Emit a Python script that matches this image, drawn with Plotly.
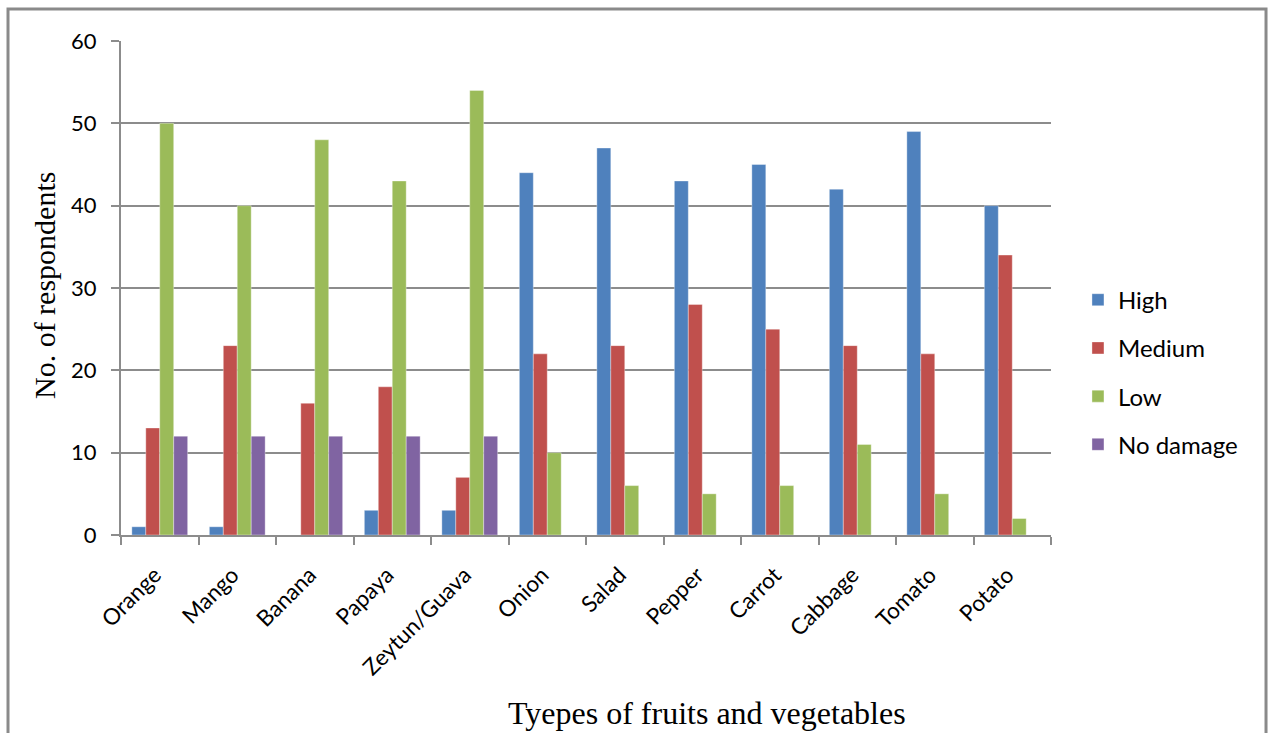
import plotly.graph_objects as go

categories = ["Orange", "Mango", "Banana", "Papaya", "Zeytun/Guava", "Onion",
              "Salad", "Pepper", "Carrot", "Cabbage", "Tomato", "Potato"]
high = [1, 1, 0, 3, 3, 44, 47, 43, 45, 42, 49, 40]
medium = [13, 23, 16, 18, 7, 22, 23, 28, 25, 23, 22, 34]
low = [50, 40, 48, 43, 54, 10, 6, 5, 6, 11, 5, 2]
no_damage = [12, 12, 12, 12, 12, 0, 0, 0, 0, 0, 0, 0]

series = [
    ("High", high, "#4F81BD"),
    ("Medium", medium, "#C0504D"),
    ("Low", low, "#9BBB59"),
    ("No damage", no_damage, "#8064A2"),
]

fig = go.Figure()
for name, vals, color in series:
    fig.add_trace(go.Bar(
        x=categories, y=vals, name=name, legendgroup=name,
        marker=dict(color=color, line=dict(color="rgba(255,255,255,0.35)", width=1)),
    ))

grid = "#8c8c8c"
sans = "Lato, 'Open Sans', sans-serif"
serif = "'Liberation Serif', 'Times New Roman', serif"
fig.update_layout(
    width=1269, height=733,
    margin=dict(l=121, r=218, t=41, b=198),
    paper_bgcolor="white", plot_bgcolor="white",
    barmode="group", bargap=0.28, bargroupgap=0,
    font=dict(family=sans, color="black"),
    showlegend=True,
    legend=dict(
        x=1.029, y=0.521, xanchor="left", yanchor="top",
        font=dict(size=24, family=sans),
        tracegroupgap=14, itemwidth=30,
    ),
    xaxis=dict(
        tickangle=-45, tickfont=dict(size=22.5),
        ticklabelstandoff=16, ticklabelshift=-5,
        showline=True, linecolor=grid, linewidth=2,
        ticks="outside", tickson="boundaries", ticklen=8, tickcolor=grid, tickwidth=2,
        showgrid=False,
    ),
    yaxis=dict(
        range=[0, 60], dtick=10, tickfont=dict(size=22),
        ticklabelstandoff=10,
        showline=True, linecolor=grid, linewidth=2,
        ticks="outside", ticklen=8, tickcolor=grid, tickwidth=2,
        showgrid=True, gridcolor=grid, gridwidth=2,
        zeroline=False,
    ),
    shapes=[dict(
        type="rect", xref="paper", yref="paper",
        x0=-0.1215, x1=1.2312, y0=-0.42, y1=1.0648,
        line=dict(color="#8a8a8a", width=3), layer="below",
    )],
    annotations=[
        dict(text="No. of respondents", xref="paper", yref="paper",
             x=-0.0828, y=0.506, xanchor="center", yanchor="middle",
             textangle=-90, showarrow=False,
             font=dict(family=serif, size=30)),
        dict(text="Tyepes of fruits and vegetables", xref="paper", yref="paper",
             x=0.63, y=-0.36, xanchor="center", yanchor="middle", showarrow=False,
             font=dict(family=serif, size=32)),
    ],
)

fig.write_html("out.html")
